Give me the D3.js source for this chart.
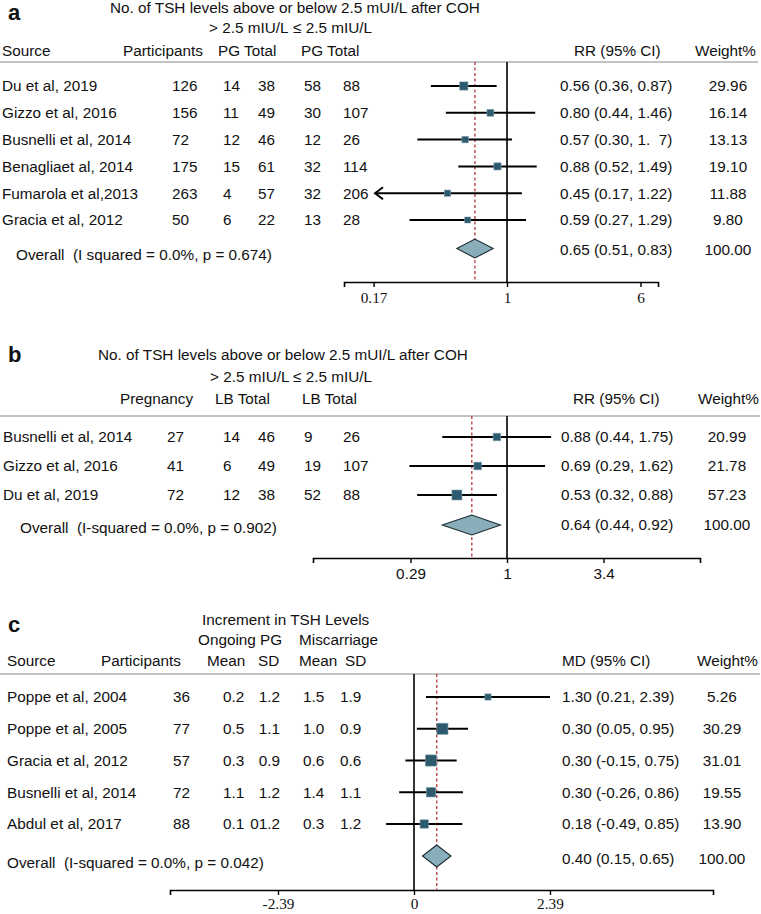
<!DOCTYPE html>
<html><head><meta charset="utf-8">
<script src="https://cdn.jsdelivr.net/npm/d3@7"></script>
<style>
body{margin:0;background:#fff}
svg text{font-family:"Liberation Sans",Arial,sans-serif;font-size:15.3px;fill:#111;white-space:pre}
</style></head><body>
<svg id="chart" width="761" height="914"></svg>
<script>
// ---------- Panel a data ----------
const studiesA = ["Du et al, 2019","Gizzo et al, 2016","Busnelli et al, 2014","Benagliaet al, 2014","Fumarola et al,2013","Gracia et al, 2012"];
const participantsA = [126,156,72,175,263,50];
const pgHighA = [14,11,12,15,4,6];
const totalHighA = [38,49,46,61,57,22];
const pgLowA = [58,30,12,32,32,13];
const totalLowA = [88,107,26,114,206,28];
const rrA = [0.56,0.80,0.57,0.88,0.45,0.59];
const lowerA = [0.36,0.44,0.30,0.52,0.17,0.27];
const upperA = [0.87,1.46,1.07,1.49,1.22,1.29];
const ciTextA = ["0.56 (0.36, 0.87)","0.80 (0.44, 1.46)","0.57 (0.30, 1.  7)","0.88 (0.52, 1.49)","0.45 (0.17, 1.22)","0.59 (0.27, 1.29)"];
const weightA = [29.96,16.14,13.13,19.10,11.88,9.80];
const arrowA = [0,0,0,0,1,0];
const overallA = [0.65,0.51,0.83];
const overallTextA = ["Overall  (I squared = 0.0%, p = 0.674)","0.65 (0.51, 0.83)","100.00"];
const ticksA = [1/6,1,6];
const tickLabelsA = ["0.17","1","6"];
const headA = ["Source","Participants","PG Total","PG Total","RR (95% CI)","Weight%"];
const topA = ["No. of TSH levels above or below 2.5 mUI/L after COH","> 2.5 mIU/L","≤ 2.5 mIU/L"];

// ---------- Panel b data ----------
const studiesB = ["Busnelli et al, 2014","Gizzo et al, 2016","Du et al, 2019"];
const pregnancyB = [27,41,72];
const lbHighB = [14,6,12];
const totalHighB = [46,49,38];
const lbLowB = [9,19,52];
const totalLowB = [26,107,88];
const rrB = [0.88,0.69,0.53];
const lowerB = [0.44,0.29,0.32];
const upperB = [1.75,1.62,0.88];
const ciTextB = ["0.88 (0.44, 1.75)","0.69 (0.29, 1.62)","0.53 (0.32, 0.88)"];
const weightB = [20.99,21.78,57.23];
const overallB = [0.64,0.44,0.92];
const overallTextB = ["Overall  (I-squared = 0.0%, p = 0.902)","0.64 (0.44, 0.92)","100.00"];
const ticksB = [1/3.4,1,3.4];
const tickLabelsB = ["0.29","1","3.4"];
const headB = ["Pregnancy","LB Total","LB Total","RR (95% CI)","Weight%"];
const topB = ["No. of TSH levels above or below 2.5 mUI/L after COH","> 2.5 mIU/L","≤ 2.5 mIU/L"];

// ---------- Panel c data ----------
const studiesC = ["Poppe et al, 2004","Poppe et al, 2005","Gracia et al, 2012","Busnelli et al, 2014","Abdul et al, 2017"];
const participantsC = [36,77,57,72,88];
const meanOngoingC = ["0.2","0.5","0.3","1.1","0.1"];
const sdOngoingC = ["1.2","1.1","0.9","1.2","01.2"];
const meanMiscC = ["1.5","1.0","0.6","1.4","0.3"];
const sdMiscC = ["1.9","0.9","0.6","1.1","1.2"];
const mdC = [1.30,0.50,0.30,0.30,0.18];
const lowerC = [0.21,0.05,-0.15,-0.26,-0.49];
const upperC = [2.39,0.95,0.75,0.86,0.85];
const ciTextC = ["1.30 (0.21, 2.39)","0.30 (0.05, 0.95)","0.30 (-0.15, 0.75)","0.30 (-0.26, 0.86)","0.18 (-0.49, 0.85)"];
const weightC = [5.26,30.29,31.01,19.55,13.90];
const overallC = [0.40,0.15,0.65];
const overallTextC = ["Overall  (I-squared = 0.0%, p = 0.042)","0.40 (0.15, 0.65)","100.00"];
const ticksC = [-2.39,0,2.39];
const tickLabelsC = ["-2.39","0","2.39"];
const headC = ["Source","Participants","Mean","SD","Mean","SD","MD (95% CI)","Weight%"];
const topC = ["Increment in TSH Levels","Ongoing PG","Miscarriage"];

const svg = d3.select("#chart");
const SQ = "#2d5b6d", DIA = "#8aadba", RED = "#b5373a";

function drawPanel(P){
  const g = svg.append("g");
  g.append("text").attr("x",P.letterX).attr("y",P.letterY).text(P.letter)
    .style("font-size","22px").style("font-weight","bold");
  P.top.forEach((t,i)=>g.append("text").attr("x",P.topX[i]).attr("y",P.topY[i]).text(t));
  P.head.forEach((t,i)=>g.append("text").attr("x",P.headX[i]).attr("y",P.headY).text(t));
  g.append("line").attr("x1",0).attr("x2",P.sepX2).attr("y1",P.sepY).attr("y2",P.sepY)
    .attr("stroke","#c4c4c4").attr("stroke-width",2);

  const n = P.studies.length;
  const y = d3.scaleLinear().domain([0,1]).range([P.rowY0,P.rowY0+P.rowStep]);
  const x = (P.log ? d3.scaleLog() : d3.scaleLinear()).domain(P.domain).range(P.axisX);
  const size = d3.scalePow().exponent(0.5).domain(d3.extent(P.weight)).range(P.sizeRange);

  const axis = d3.axisBottom(x).tickValues(P.ticks).tickFormat((d,i)=>P.tickLabels[i])
    .tickSizeOuter(0).tickSize(5).tickPadding(P.tickPad);
  const ag = g.append("g").attr("transform",`translate(0,${P.axisY})`).call(axis);
  ag.select(".domain").attr("stroke","#000").attr("stroke-width",1.6);
  ag.selectAll(".tick line").attr("stroke","#000").attr("stroke-width",1.4);
  ag.selectAll(".tick text").attr("fill","#111")
    .style("font-family",P.tickFont).style("font-size","15.3px");

  g.append("line").attr("x1",x(P.nullVal)).attr("x2",x(P.nullVal)).attr("y1",P.sepY).attr("y2",P.axisY)
    .attr("stroke","#000").attr("stroke-width",1.6);
  g.append("line").attr("x1",x(P.overall[0])).attr("x2",x(P.overall[0])).attr("y1",P.sepY).attr("y2",P.axisY)
    .attr("stroke",RED).attr("stroke-width",1.3).attr("stroke-dasharray","3,2.5");

  for(let i=0;i<n;i++){
    const cy = y(i);
    g.append("text").attr("x",P.studyX).attr("y",cy).attr("dy","0.35em").text(P.studies[i]);
    P.cols.forEach((c,j)=>{
      g.append("text").attr("x",P.colX[j]).attr("y",cy).attr("dy","0.35em")
        .attr("text-anchor",P.colAnchor[j]).text(c[i]);
    });
    g.append("line").attr("x1",x(P.lower[i])).attr("x2",x(P.upper[i])).attr("y1",cy).attr("y2",cy)
      .attr("stroke","#000").attr("stroke-width",2);
    if(P.arrow && P.arrow[i]){
      const ax = x(P.lower[i]);
      g.append("path").attr("d",`M${ax+8},${cy-6}L${ax},${cy}L${ax+8},${cy+6}`)
        .attr("fill","none").attr("stroke","#000").attr("stroke-width",2);
    }
    const s = size(P.weight[i]);
    g.append("rect").attr("x",x(P.est[i])-s/2).attr("y",cy-s/2).attr("width",s).attr("height",s)
      .attr("fill",SQ).attr("stroke","#7d9fae").attr("stroke-width",0.6);
    g.append("text").attr("x",P.ciX).attr("y",cy).attr("dy","0.35em").text(P.ciText[i]);
    g.append("text").attr("x",P.wX).attr("y",cy).attr("dy","0.35em").attr("text-anchor","middle")
      .text(P.weight[i].toFixed(2));
  }
  const [oe,ol,oh] = P.overall;
  const dy = P.ovY, h = P.diaH;
  g.append("path").attr("d",`M${x(ol)},${dy}L${x(oe)},${dy-h}L${x(oh)},${dy}L${x(oe)},${dy+h}Z`)
    .attr("fill",DIA).attr("stroke","#1c2a30").attr("stroke-width",1.1);
  g.append("text").attr("x",P.ovLabelX).attr("y",P.ovLabelY).attr("dy","0.35em").text(P.overallText[0]);
  g.append("text").attr("x",P.ciX).attr("y",P.ovTextY).attr("dy","0.35em").text(P.overallText[1]);
  g.append("text").attr("x",P.wX).attr("y",P.ovTextY).attr("dy","0.35em").attr("text-anchor","middle").text(P.overallText[2]);
}

const serif = '"Liberation Serif","Times New Roman",serif';
const sans = '"Liberation Sans",Arial,sans-serif';

drawPanel({
  letter:"a", letterX:8, letterY:20,
  top:topA, topX:[110,209,293], topY:[13,33,33],
  head:headA, headX:[2,123,218,301,574,695], headY:56, sepY:62, sepX2:758,
  studies:studiesA, studyX:2, rowY0:86, rowStep:26.8,
  cols:[participantsA,pgHighA,totalHighA,pgLowA,totalLowA], colX:[172,223,258,304,343],
  colAnchor:["start","start","start","start","start"],
  log:true, domain:[0.1121,7.59], axisX:[344,658], axisY:282,
  ticks:ticksA, tickLabels:tickLabelsA, tickFont:serif, tickPad:5, nullVal:1,
  est:rrA, lower:lowerA, upper:upperA, arrow:arrowA, weight:weightA, sizeRange:[6,8.2],
  ciText:ciTextA, ciX:560, wX:728,
  overall:overallA, overallText:overallTextA, ovY:248.5, diaH:9.5, ovLabelX:16, ovLabelY:255, ovTextY:250
});

drawPanel({
  letter:"b", letterX:8, letterY:362,
  top:topB, topX:[98,210,293], topY:[360,382,382],
  head:headB, headX:[120,215,302,573,698], headY:404, sepY:416, sepX2:760,
  studies:studiesB, studyX:3, rowY0:437, rowStep:29,
  cols:[pregnancyB,lbHighB,totalHighB,lbLowB,totalLowB], colX:[167,223,258,304,343],
  colAnchor:["start","start","start","start","start"],
  log:true, domain:[0.0854,11.56], axisX:[313,700], axisY:558,
  ticks:ticksB, tickLabels:tickLabelsB, tickFont:sans, tickPad:5, nullVal:1,
  est:rrB, lower:lowerB, upper:upperB, arrow:null, weight:weightB, sizeRange:[7.6,10],
  ciText:ciTextB, ciX:561, wX:727,
  overall:overallB, overallText:overallTextB, ovY:525, diaH:10, ovLabelX:20, ovLabelY:528, ovTextY:525
});

drawPanel({
  letter:"c", letterX:8, letterY:632,
  top:topC, topX:[202,198,299], topY:[625,645,645],
  head:headC, headX:[7,101,207,258,299,345,562,697], headY:666, sepY:674, sepX2:760,
  studies:studiesC, studyX:7, rowY0:697, rowStep:31.75,
  cols:[participantsC,meanOngoingC,sdOngoingC,meanMiscC,sdMiscC], colX:[173,223,280,303,340],
  colAnchor:["start","start","end","start","start"],
  log:false, domain:[-4.288,5.255], axisX:[170,713], axisY:890,
  ticks:ticksC, tickLabels:tickLabelsC, tickFont:serif, tickPad:3, nullVal:0,
  est:mdC, lower:lowerC, upper:upperC, arrow:null, weight:weightC, sizeRange:[6.2,11.2],
  ciText:ciTextC, ciX:562, wX:722,
  overall:overallC, overallText:overallTextC, ovY:856, diaH:11, ovLabelX:7, ovLabelY:863, ovTextY:859
});
</script>
</body></html>
